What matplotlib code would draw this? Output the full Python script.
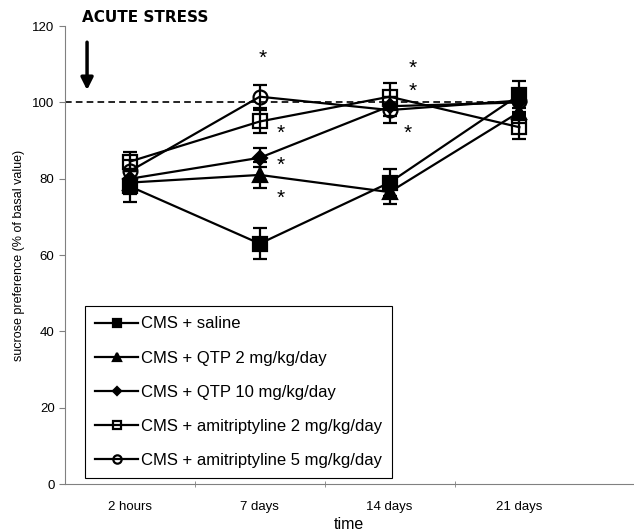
import matplotlib
matplotlib.use('Agg')
import matplotlib.pyplot as plt
import numpy as np

plt.rcParams['font.family'] = ['Liberation Sans', 'DejaVu Sans']

times = ['2 hours', '7 days', '14 days', '21 days']
labels = ['CMS + saline', 'CMS + QTP 2 mg/kg/day', 'CMS + QTP 10 mg/kg/day',
          'CMS + amitriptyline 2 mg/kg/day', 'CMS + amitriptyline 5 mg/kg/day']

saline = [78, 63, 79, 102]
saline_err = [4, 4, 3.5, 3.5]
qtp2 = [79, 81, 76.5, 97.5]
qtp2_err = [3, 3.5, 3, 3]
qtp10 = [80, 85.5, 99, 100]
qtp10_err = [2.5, 2.5, 2.5, 3]
ami2 = [84.5, 95, 101.5, 93.5]
ami2_err = [2.5, 3, 3.5, 3]
ami5 = [82, 101.5, 98, 100.5]
ami5_err = [3, 3, 3.5, 3]

series = [saline, qtp2, qtp10, ami2, ami5]
errors = [saline_err, qtp2_err, qtp10_err, ami2_err, ami5_err]
markers = ['s', '^', 'D', 's', 'o']
filled = [True, True, True, False, False]
sizes = [10, 10, 7.5, 10, 10]

# asterisks (x position, y value)
star_x = [1.02, 1.16, 1.16, 1.16, 2.18, 2.18, 2.14]
star_y = [111.5, 92, 83.5, 75, 109, 103, 92]

fig = plt.figure(figsize=(6.34, 5.32), dpi=100)
ax = fig.add_axes([0.1025, 0.09, 0.897, 0.861])

x = np.arange(len(times))
handles = []
for vals, err, m, f, ms, lab in zip(series, errors, markers, filled, sizes, labels):
    c = ax.errorbar(x, vals, yerr=err, color='black', marker=m, markersize=ms,
                    mfc='black' if f else 'none', mec='black', mew=1.6,
                    lw=1.6, elinewidth=1.6, capsize=5, capthick=1.6, label=lab)
    handles.append(c.lines[0])

ax.plot([-0.5, 3], [100, 100], color='black', ls='--', lw=1.2, dashes=(4, 2.5))

for sx, sy in zip(star_x, star_y):
    ax.text(sx, sy, '*', fontsize=15, ha='center', va='center', color='black')

ax.set_xlim(-0.5, 3.88)
ax.set_ylim(0, 120)
ax.set_yticks(np.arange(0, 121, 20))
ax.set_xticks(x)
ax.set_xticklabels(times, fontsize=9.5)
ax.set_xticks([0.5, 1.5, 2.5], minor=True)
ax.tick_params(axis='x', which='major', length=0, pad=12)
ax.tick_params(axis='x', which='minor', length=5, direction='inout', color='gray')
ax.tick_params(axis='y', labelsize=9.5, length=4, color='gray')
for s in ['top', 'right']:
    ax.spines[s].set_visible(False)
ax.spines['left'].set_color('gray')
ax.spines['bottom'].set_color('gray')

ax.set_xlabel('time', fontsize=11.5, labelpad=3)
ax.set_ylabel('sucrose preference (% of basal value)', fontsize=9, labelpad=5)

leg = ax.legend(handles=handles, labels=labels, loc='lower left',
                bbox_to_anchor=(0.035, 0.013), borderaxespad=0,
                fontsize=12, fancybox=False, edgecolor='black', framealpha=1,
                labelspacing=1.15, handlelength=2.6, handletextpad=0.15,
                markerscale=0.6, borderpad=0.6)
leg.get_frame().set_linewidth(0.8)

fig.text(82 / 634, 1 - 17 / 532, 'ACUTE STRESS', fontsize=11, fontweight='bold',
         family='DejaVu Sans', va='center', ha='left')
ax.annotate('', xy=(-0.33, 102.5), xytext=(-0.33, 116.5),
            arrowprops=dict(arrowstyle='-|>', color='black', lw=2.5,
                            mutation_scale=18))

fig.savefig('out.png', dpi=100)
